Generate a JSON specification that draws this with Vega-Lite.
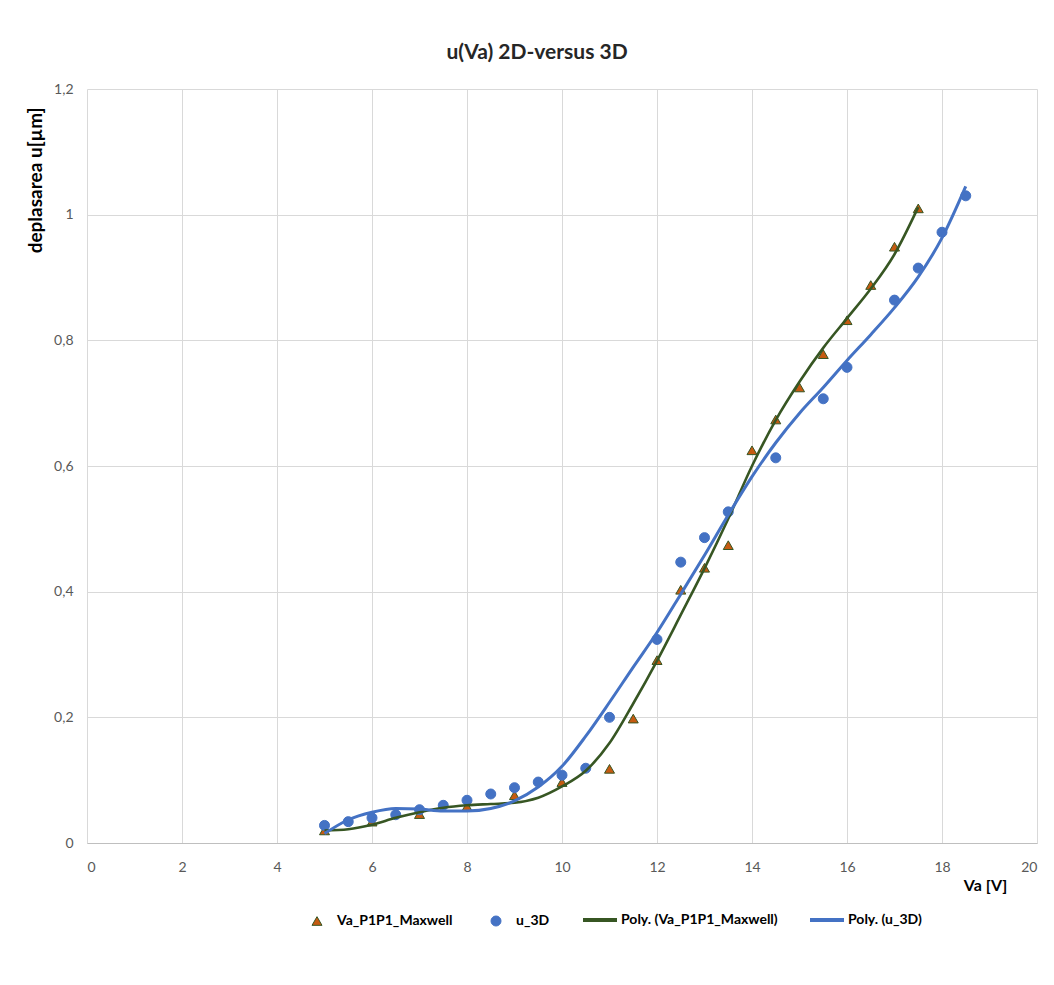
{
  "$schema": "https://vega.github.io/schema/vega-lite/v6.json",
  "width": 950,
  "height": 754,
  "autosize": {"type": "none"},
  "padding": {"left": 87, "top": 89, "right": 17, "bottom": 142},
  "background": "white",
  "title": {
    "text": "u(Va) 2D-versus 3D",
    "anchor": "middle",
    "frame": "group",
    "dx": -25,
    "baseline": "bottom",
    "offset": -2,
    "font": "Lato",
    "fontSize": 21,
    "fontWeight": "bold",
    "color": "#262626"
  },
  "datasets": {
    "pts": [
      {"series": "Va_P1P1_Maxwell", "x": 5, "y": 0.020},
      {"series": "Va_P1P1_Maxwell", "x": 6, "y": 0.034},
      {"series": "Va_P1P1_Maxwell", "x": 7, "y": 0.046},
      {"series": "Va_P1P1_Maxwell", "x": 8, "y": 0.058},
      {"series": "Va_P1P1_Maxwell", "x": 9, "y": 0.076},
      {"series": "Va_P1P1_Maxwell", "x": 10, "y": 0.097},
      {"series": "Va_P1P1_Maxwell", "x": 11, "y": 0.118},
      {"series": "Va_P1P1_Maxwell", "x": 11.5, "y": 0.198},
      {"series": "Va_P1P1_Maxwell", "x": 12, "y": 0.291},
      {"series": "Va_P1P1_Maxwell", "x": 12.5, "y": 0.403},
      {"series": "Va_P1P1_Maxwell", "x": 13, "y": 0.438},
      {"series": "Va_P1P1_Maxwell", "x": 13.5, "y": 0.474},
      {"series": "Va_P1P1_Maxwell", "x": 14, "y": 0.625},
      {"series": "Va_P1P1_Maxwell", "x": 14.5, "y": 0.674},
      {"series": "Va_P1P1_Maxwell", "x": 15, "y": 0.725},
      {"series": "Va_P1P1_Maxwell", "x": 15.5, "y": 0.778},
      {"series": "Va_P1P1_Maxwell", "x": 16, "y": 0.832},
      {"series": "Va_P1P1_Maxwell", "x": 16.5, "y": 0.888},
      {"series": "Va_P1P1_Maxwell", "x": 17, "y": 0.949},
      {"series": "Va_P1P1_Maxwell", "x": 17.5, "y": 1.010},
      {"series": "u_3D", "x": 5, "y": 0.028},
      {"series": "u_3D", "x": 5.5, "y": 0.034},
      {"series": "u_3D", "x": 6, "y": 0.040},
      {"series": "u_3D", "x": 6.5, "y": 0.045},
      {"series": "u_3D", "x": 7, "y": 0.053},
      {"series": "u_3D", "x": 7.5, "y": 0.060},
      {"series": "u_3D", "x": 8, "y": 0.068},
      {"series": "u_3D", "x": 8.5, "y": 0.078},
      {"series": "u_3D", "x": 9, "y": 0.088},
      {"series": "u_3D", "x": 9.5, "y": 0.097},
      {"series": "u_3D", "x": 10, "y": 0.108},
      {"series": "u_3D", "x": 10.5, "y": 0.119},
      {"series": "u_3D", "x": 11, "y": 0.200},
      {"series": "u_3D", "x": 12, "y": 0.324},
      {"series": "u_3D", "x": 12.5, "y": 0.447},
      {"series": "u_3D", "x": 13, "y": 0.486},
      {"series": "u_3D", "x": 13.5, "y": 0.527},
      {"series": "u_3D", "x": 14.5, "y": 0.613},
      {"series": "u_3D", "x": 15.5, "y": 0.707},
      {"series": "u_3D", "x": 16, "y": 0.757},
      {"series": "u_3D", "x": 17, "y": 0.864},
      {"series": "u_3D", "x": 17.5, "y": 0.915},
      {"series": "u_3D", "x": 18, "y": 0.972},
      {"series": "u_3D", "x": 18.5, "y": 1.030}
    ],
    "curves": [
      {"trend": "Poly. (Va_P1P1_Maxwell)", "x": 5, "y": 0.020},
      {"trend": "Poly. (Va_P1P1_Maxwell)", "x": 5.5, "y": 0.022},
      {"trend": "Poly. (Va_P1P1_Maxwell)", "x": 6, "y": 0.029},
      {"trend": "Poly. (Va_P1P1_Maxwell)", "x": 6.5, "y": 0.040},
      {"trend": "Poly. (Va_P1P1_Maxwell)", "x": 7, "y": 0.049},
      {"trend": "Poly. (Va_P1P1_Maxwell)", "x": 7.5, "y": 0.056},
      {"trend": "Poly. (Va_P1P1_Maxwell)", "x": 8, "y": 0.060},
      {"trend": "Poly. (Va_P1P1_Maxwell)", "x": 8.5, "y": 0.062},
      {"trend": "Poly. (Va_P1P1_Maxwell)", "x": 9, "y": 0.064},
      {"trend": "Poly. (Va_P1P1_Maxwell)", "x": 9.5, "y": 0.072},
      {"trend": "Poly. (Va_P1P1_Maxwell)", "x": 10, "y": 0.090},
      {"trend": "Poly. (Va_P1P1_Maxwell)", "x": 10.5, "y": 0.115},
      {"trend": "Poly. (Va_P1P1_Maxwell)", "x": 11, "y": 0.159},
      {"trend": "Poly. (Va_P1P1_Maxwell)", "x": 11.5, "y": 0.222},
      {"trend": "Poly. (Va_P1P1_Maxwell)", "x": 12, "y": 0.290},
      {"trend": "Poly. (Va_P1P1_Maxwell)", "x": 12.5, "y": 0.363},
      {"trend": "Poly. (Va_P1P1_Maxwell)", "x": 13, "y": 0.437},
      {"trend": "Poly. (Va_P1P1_Maxwell)", "x": 13.5, "y": 0.516},
      {"trend": "Poly. (Va_P1P1_Maxwell)", "x": 14, "y": 0.600},
      {"trend": "Poly. (Va_P1P1_Maxwell)", "x": 14.5, "y": 0.673},
      {"trend": "Poly. (Va_P1P1_Maxwell)", "x": 15, "y": 0.734},
      {"trend": "Poly. (Va_P1P1_Maxwell)", "x": 15.5, "y": 0.788},
      {"trend": "Poly. (Va_P1P1_Maxwell)", "x": 16, "y": 0.835},
      {"trend": "Poly. (Va_P1P1_Maxwell)", "x": 16.5, "y": 0.882},
      {"trend": "Poly. (Va_P1P1_Maxwell)", "x": 17, "y": 0.937},
      {"trend": "Poly. (Va_P1P1_Maxwell)", "x": 17.5, "y": 1.012},
      {"trend": "Poly. (u_3D)", "x": 5, "y": 0.015},
      {"trend": "Poly. (u_3D)", "x": 5.5, "y": 0.037},
      {"trend": "Poly. (u_3D)", "x": 6, "y": 0.049},
      {"trend": "Poly. (u_3D)", "x": 6.5, "y": 0.055},
      {"trend": "Poly. (u_3D)", "x": 7, "y": 0.054},
      {"trend": "Poly. (u_3D)", "x": 7.5, "y": 0.051},
      {"trend": "Poly. (u_3D)", "x": 8, "y": 0.051},
      {"trend": "Poly. (u_3D)", "x": 8.5, "y": 0.055},
      {"trend": "Poly. (u_3D)", "x": 9, "y": 0.067},
      {"trend": "Poly. (u_3D)", "x": 9.5, "y": 0.089},
      {"trend": "Poly. (u_3D)", "x": 10, "y": 0.122},
      {"trend": "Poly. (u_3D)", "x": 10.5, "y": 0.170},
      {"trend": "Poly. (u_3D)", "x": 11, "y": 0.224},
      {"trend": "Poly. (u_3D)", "x": 11.5, "y": 0.280},
      {"trend": "Poly. (u_3D)", "x": 12, "y": 0.335},
      {"trend": "Poly. (u_3D)", "x": 12.5, "y": 0.396},
      {"trend": "Poly. (u_3D)", "x": 13, "y": 0.458},
      {"trend": "Poly. (u_3D)", "x": 13.5, "y": 0.522},
      {"trend": "Poly. (u_3D)", "x": 14, "y": 0.583},
      {"trend": "Poly. (u_3D)", "x": 14.5, "y": 0.637},
      {"trend": "Poly. (u_3D)", "x": 15, "y": 0.684},
      {"trend": "Poly. (u_3D)", "x": 15.5, "y": 0.725},
      {"trend": "Poly. (u_3D)", "x": 16, "y": 0.768},
      {"trend": "Poly. (u_3D)", "x": 16.5, "y": 0.809},
      {"trend": "Poly. (u_3D)", "x": 17, "y": 0.852},
      {"trend": "Poly. (u_3D)", "x": 17.5, "y": 0.901},
      {"trend": "Poly. (u_3D)", "x": 18, "y": 0.963},
      {"trend": "Poly. (u_3D)", "x": 18.5, "y": 1.045}
    ]
  },
  "encoding": {
    "x": {
      "field": "x",
      "type": "quantitative",
      "scale": {"domain": [0, 20], "nice": false, "zero": false},
      "axis": {
        "values": [0, 2, 4, 6, 8, 10, 12, 14, 16, 18, 20],
        "title": "Va [V]",
        "titleX": 898,
        "titleY": 42,
        "titleAlign": "center",
        "titleBaseline": "middle",
        "titleFont": "Lato",
        "titleFontSize": 16,
        "titleFontWeight": "bold",
        "titleColor": "#000000",
        "labelPadding": 17,
        "domain": true,
        "domainColor": "#BFBFBF",
        "ticks": false,
        "grid": true,
        "gridColor": "#D9D9D9"
      }
    },
    "y": {
      "field": "y",
      "type": "quantitative",
      "scale": {"domain": [0, 1.2], "nice": false},
      "axis": {
        "values": [0, 0.2, 0.4, 0.6, 0.8, 1, 1.2],
        "labelExpr": "replace(toString(datum.value), '.', ',')",
        "title": "deplasarea u[µm]",
        "titleX": -52,
        "titleY": 18,
        "titleAngle": -90,
        "titleAlign": "right",
        "titleBaseline": "middle",
        "titleFont": "Lato",
        "titleFontSize": 19,
        "titleFontWeight": "bold",
        "titleColor": "#000000",
        "labelPadding": 14,
        "domain": false,
        "ticks": false,
        "grid": true,
        "gridColor": "#D9D9D9"
      }
    }
  },
  "layer": [
    {
      "data": {"name": "pts"},
      "mark": {"type": "point", "filled": true, "size": 100, "strokeWidth": 1, "opacity": 1},
      "encoding": {
        "fill": {
          "field": "series", "type": "nominal",
          "scale": {"domain": ["Va_P1P1_Maxwell", "u_3D"], "range": ["#C55A11", "#4472C4"]},
          "legend": {
            "orient": "none", "legendX": 223, "legendY": 825, "direction": "horizontal",
            "title": null, "symbolSize": 100, "symbolStrokeWidth": 1, "labelOffset": 13, "columnPadding": 36
          }
        },
        "stroke": {
          "field": "series", "type": "nominal",
          "scale": {"domain": ["Va_P1P1_Maxwell", "u_3D"], "range": ["#375623", "#4472C4"]},
          "legend": {
            "orient": "none", "legendX": 223, "legendY": 825, "direction": "horizontal",
            "title": null, "symbolSize": 100, "symbolStrokeWidth": 1, "labelOffset": 13, "columnPadding": 36
          }
        },
        "shape": {
          "field": "series", "type": "nominal",
          "scale": {"domain": ["Va_P1P1_Maxwell", "u_3D"], "range": ["triangle-up", "circle"]},
          "legend": {
            "orient": "none", "legendX": 223, "legendY": 825, "direction": "horizontal",
            "title": null, "symbolSize": 100, "symbolStrokeWidth": 1, "labelOffset": 13, "columnPadding": 36
          }
        }
      }
    },
    {
      "data": {"name": "curves"},
      "transform": [{"filter": "datum.trend === 'Poly. (Va_P1P1_Maxwell)'"}],
      "mark": {"type": "line", "interpolate": "monotone", "strokeWidth": 2.6},
      "encoding": {
        "color": {
          "field": "trend", "type": "nominal",
          "scale": {"domain": ["Poly. (Va_P1P1_Maxwell)", "Poly. (u_3D)"], "range": ["#375623", "#4472C4"]},
          "legend": {
            "orient": "none", "legendX": 494, "legendY": 812, "direction": "horizontal",
            "title": null, "symbolType": "stroke", "symbolSize": 1156, "symbolStrokeWidth": 4,
            "labelOffset": 2, "columnPadding": 24
          }
        }
      }
    },
    {
      "data": {"name": "curves"},
      "transform": [{"filter": "datum.trend === 'Poly. (u_3D)'"}],
      "mark": {"type": "line", "interpolate": "monotone", "strokeWidth": 3},
      "encoding": {
        "color": {"field": "trend", "type": "nominal"}
      }
    }
  ],
  "config": {
    "view": {"stroke": null},
    "font": "Lato",
    "axis": {"labelFont": "Lato", "labelFontSize": 14, "labelColor": "#595959"},
    "legend": {"labelFont": "Lato", "labelFontSize": 14, "labelFontWeight": "bold", "labelColor": "#000000", "padding": 0, "labelLimit": 400}
  }
}
